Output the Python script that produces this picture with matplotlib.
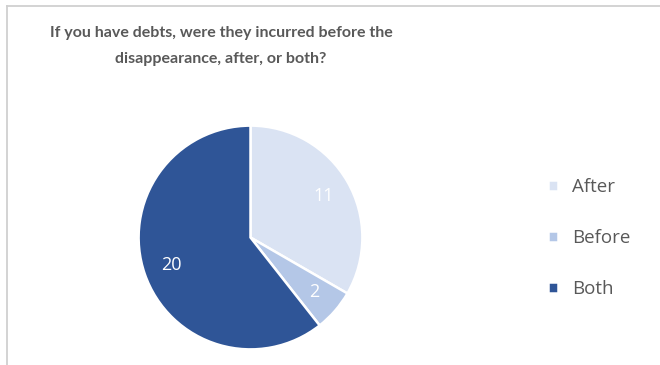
import matplotlib.pyplot as plt
from matplotlib.lines import Line2D

# answers to the debt question
categories = ["After", "Before", "Both"]
counts = [11, 2, 20]
colors = ["#dae3f3", "#b4c7e7", "#2f5597"]

title = "If you have debts, were they incurred before the\ndisappearance, after, or both?"

W, H = 660, 365
fig = plt.figure(figsize=(W / 100, H / 100), dpi=100)
fig.patch.set_facecolor("white")

# pie sits in a square axes, radius ~112px
cx, cy, r = 250.5, 237.5, 113
ax = fig.add_axes([(cx - r) / W, 1 - (cy + r) / H, 2 * r / W, 2 * r / H])

wedges, _, autotexts = ax.pie(
    counts,
    colors=colors,
    startangle=90,
    counterclock=False,
    radius=1,
    autopct=lambda p: "{:.0f}".format(p * sum(counts) / 100),
    pctdistance=0.75,
    wedgeprops=dict(edgecolor="white", linewidth=1.8),
    textprops=dict(color="white", fontsize=13, family="Open Sans"),
)
ax.set_xlim(-1.01, 1.01)
ax.set_ylim(-1.01, 1.01)
ax.set_aspect("equal")
ax.axis("off")

fig.text(221 / W, 1 - 46 / H, title, ha="center", va="center",
         fontsize=11.5, fontweight="bold", color="#595959",
         family="Lato", linespacing=2.05)

leg = fig.legend(wedges, categories, loc="center left",
                 bbox_to_anchor=(531 / W, 1 - 238 / H),
                 frameon=False, handlelength=0.55, handleheight=0.55,
                 handletextpad=0.75, labelspacing=1.75,
                 prop=dict(family="Open Sans", size=13.5))
for t in leg.get_texts():
    t.set_color("#595959")

# thin grey frame lines along top and left
fig.add_artist(Line2D([7 / W, 1], [1 - 5.5 / H, 1 - 5.5 / H],
                      transform=fig.transFigure, color="#d0d0d0", lw=1.3))
fig.add_artist(Line2D([7 / W, 7 / W], [0, 1 - 5.5 / H],
                      transform=fig.transFigure, color="#d0d0d0", lw=1.3))

fig.savefig("out.png", dpi=100, facecolor="white")
